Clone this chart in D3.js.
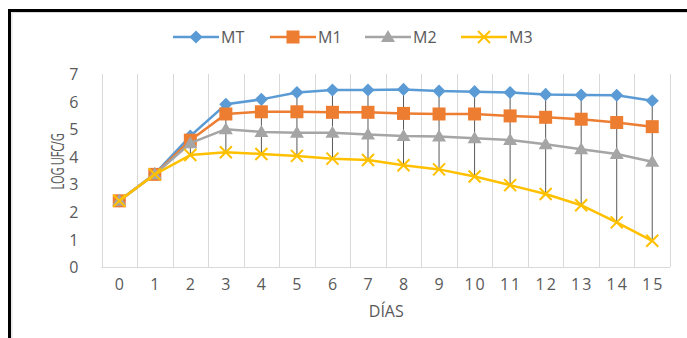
<!DOCTYPE html>
<html><head><meta charset="utf-8">
<script src="https://cdn.jsdelivr.net/npm/d3@7"></script>
<style>
html,body{margin:0;padding:0;background:#fff;}
svg{display:block;}
text{font-family:"Open Sans","Liberation Sans",sans-serif;fill:#595959;}
</style></head>
<body>
<script>
const categories = ["0","1","2","3","4","5","6","7","8","9","10","11","12","13","14","15"];
const seriesNames = ["MT","M1","M2","M3"];
const MT = [2.4,3.38,4.75,5.9,6.08,6.33,6.42,6.42,6.44,6.38,6.36,6.33,6.26,6.24,6.23,6.03];
const M1 = [2.4,3.36,4.6,5.55,5.63,5.63,5.61,5.61,5.57,5.55,5.55,5.48,5.43,5.36,5.24,5.09];
const M2 = [2.4,3.36,4.49,5.0,4.9,4.87,4.87,4.81,4.75,4.73,4.67,4.61,4.45,4.27,4.1,3.82];
const M3 = [2.4,3.36,4.06,4.16,4.1,4.03,3.93,3.88,3.69,3.54,3.28,2.97,2.65,2.24,1.62,0.95];
const yTicks = [0,1,2,3,4,5,6,7];
const colors = ["#5B9BD5","#ED7D31","#A5A5A5","#FFC000"];
const markers = ["diamond","square","triangle","x"];
const data = [MT,M1,M2,M3];

const W=687,H=338;
const svg=d3.select("body").append("svg").attr("width",W).attr("height",H);

// frame
svg.append("rect").attr("x",12).attr("y",12.5).attr("width",700).attr("height",400)
  .attr("fill","none").attr("stroke","#d9d9d9").attr("stroke-width",1);
svg.append("path").attr("d","M9.5,340 V10.5 H700").attr("fill","none").attr("stroke","#000").attr("stroke-width",3);

const pLeft=101.5,pRight=670,pTop=74,pBottom=267;
const x=d3.scaleBand().domain(categories).range([pLeft,pRight]);
const y=d3.scaleLinear().domain([0,7]).range([pBottom,pTop]);

// vertical gridlines at category boundaries
const bounds=categories.map(c=>x(c)).concat([pRight]);
svg.append("g").selectAll("line").data(bounds).join("line")
  .attr("x1",d=>Math.round(d)+0.5).attr("x2",d=>Math.round(d)+0.5)
  .attr("y1",pTop).attr("y2",pBottom).attr("stroke","#d9d9d9").attr("stroke-width",1);
// baseline
svg.append("line").attr("x1",pLeft).attr("x2",pRight).attr("y1",pBottom+0.5).attr("y2",pBottom+0.5)
  .attr("stroke","#d9d9d9").attr("stroke-width",1);

// y axis
const yAxis=d3.axisLeft(y).tickValues(yTicks).tickFormat(d3.format("d")).tickSize(0).tickPadding(0);
const gy=svg.append("g").attr("transform",`translate(${pLeft-23},0)`).call(yAxis);
gy.select(".domain").remove();
gy.selectAll("text").style("font-size","16px").attr("fill","#595959").attr("dy","0.35em");

// x axis
const xAxis=d3.axisBottom(x).tickSize(0).tickPadding(0);
const gx=svg.append("g").attr("transform",`translate(1,${pBottom+12})`).call(xAxis);
gx.select(".domain").remove();
gx.selectAll("text").style("font-size","16px").style("letter-spacing","2px").attr("fill","#595959").attr("dy","0.71em");

// axis titles
svg.append("text").attr("x",x("7")+x.bandwidth()+0.5).attr("y",317).attr("text-anchor","middle")
  .style("font-size","16px").text("DÍAS");
const yt=svg.append("text").attr("text-anchor","middle")
  .style("font-size","18px").style("letter-spacing","-0.5px").text("LOG UFC/G");
const tl=yt.node().getComputedTextLength();
const sc=Math.min(1,56/tl);
yt.attr("transform",`translate(64,161.5) rotate(-90) scale(${sc},1)`);

const cx=i=>x(categories[i])+x.bandwidth()/2;

// high-low lines
svg.append("g").selectAll("line").data(categories).join("line")
  .attr("x1",(d,i)=>cx(i)).attr("x2",(d,i)=>cx(i))
  .attr("y1",(d,i)=>y(d3.max(data,s=>s[i]))).attr("y2",(d,i)=>y(d3.min(data,s=>s[i])))
  .attr("stroke","#595959").attr("stroke-width",1);

function drawMarker(g,type,color,px,py){
  if(type==="diamond"){
    g.append("path").attr("d",d3.symbol(d3.symbolDiamond2,110)()).attr("transform",`translate(${px},${py})`).attr("fill",color);
  } else if(type==="square"){
    g.append("rect").attr("x",px-6.5).attr("y",py-6.5).attr("width",13).attr("height",13).attr("fill",color);
  } else if(type==="triangle"){
    g.append("path").attr("d",`M${px},${py-7}L${px+7},${py+5}L${px-7},${py+5}Z`).attr("fill",color);
  } else {
    g.append("path").attr("d",`M${px-6},${py-6}L${px+6},${py+6}M${px-6},${py+6}L${px+6},${py-6}`)
      .attr("stroke",color).attr("stroke-width",2).attr("fill","none");
  }
}

const line=d3.line().x((d,i)=>cx(i)).y(d=>y(d));
data.forEach((s,k)=>{
  const g=svg.append("g");
  g.append("path").datum(s).attr("d",line).attr("fill","none").attr("stroke",colors[k]).attr("stroke-width",2.5).attr("stroke-linejoin","round");
  s.forEach((v,i)=>drawMarker(g,markers[k],colors[k],cx(i),y(v)));
});

// legend
const legX=[173,270,365,461];
const lg=svg.append("g");
seriesNames.forEach((n,k)=>{
  const x0=legX[k],ly=37;
  lg.append("line").attr("x1",x0).attr("x2",x0+46).attr("y1",ly).attr("y2",ly).attr("stroke",colors[k]).attr("stroke-width",2.5);
  drawMarker(lg,markers[k],colors[k],x0+23,ly);
  lg.append("text").attr("x",x0+48).attr("y",ly).attr("dy","0.35em").style("font-size","16px").text(n);
});
</script>
</body></html>
